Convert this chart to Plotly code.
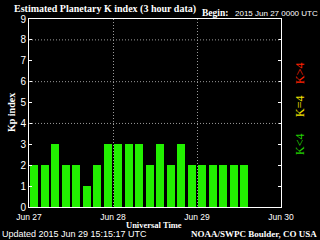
import pandas as pd
import plotly.graph_objects as go

# Data
start = "2015-06-27 00:00"
kp_values = [2, 2, 3, 2, 2, 1, 2, 3,
             3, 3, 3, 2, 3, 2, 3, 2,
             2, 2, 2, 2, 2]
bin_hours = 3
day_ticks = ["2015-06-27", "2015-06-28", "2015-06-29", "2015-06-30"]
day_labels = ["Jun 27", "Jun 28", "Jun 29", "Jun 30"]
grid_levels = [4, 6, 8]

times = pd.date_range(start, periods=len(kp_values), freq=f"{bin_hours}h") + pd.Timedelta(hours=bin_hours / 2)
bar_width_ms = bin_hours * 3600 * 1000 * 0.75

W, H = 320, 240
L, R, T, B = 29, 39, 19, 33
pw, ph = W - L - R, H - T - B


def px(x):
    return (x - L) / pw


def py(y):
    return (H - B - y) / ph


serif = "Liberation Serif"
sans = "Liberation Sans"
grid_col = "#9a9a9a"
grid_dash = "1px,2px"

fig = go.Figure()
fig.add_trace(go.Bar(
    x=times, y=kp_values, width=bar_width_ms,
    marker=dict(color="#22f000", line=dict(width=0)),
))

for lv in grid_levels:
    fig.add_hline(y=lv, line=dict(color=grid_col, width=1, dash=grid_dash))

fig.update_layout(
    width=W, height=H,
    margin=dict(l=L, r=R, t=T, b=B),
    paper_bgcolor="black", plot_bgcolor="black",
    showlegend=False, bargap=0,
    xaxis=dict(
        type="date", range=[day_ticks[0], day_ticks[-1]],
        tickvals=day_ticks, ticktext=day_labels,
        showgrid=True, gridcolor=grid_col, griddash=grid_dash, gridwidth=1,
        showline=True, linecolor="white", linewidth=1, mirror=True,
        ticks="", tickfont=dict(family=sans, size=8.5, color="white"),
        ticklabelstandoff=2,
        zeroline=False,
    ),
    yaxis=dict(
        range=[0, 9], dtick=1, showgrid=False,
        showline=True, linecolor="white", linewidth=1, mirror="ticks",
        ticks="inside", ticklen=3, tickcolor="white",
        tickfont=dict(family=sans, size=10, color="white"),
        zeroline=False,
    ),
)

ann = [
    dict(text="<b>Estimated Planetary K index (3 hour data)</b>", x=px(12), y=py(9),
         xanchor="left", yanchor="middle", font=dict(family=serif, size=10, color="white")),
    dict(text="<b>Begin:</b>", x=px(200), y=py(13), xanchor="left", yanchor="middle",
         font=dict(family=serif, size=9.5, color="white")),
    dict(text="2015 Jun 27 0000 UTC", x=px(320), y=py(13), xanchor="right", yanchor="middle",
         font=dict(family=sans, size=8, color="white")),
    dict(text="<b>Kp index</b>", x=px(11), y=py(113), xanchor="center", yanchor="middle", textangle=-90,
         font=dict(family=serif, size=10, color="white")),
    dict(text="<b>Universal Time</b>", x=px(154), y=py(225), xanchor="center", yanchor="middle",
         font=dict(family=serif, size=8.5, color="white")),
    dict(text="Updated 2015 Jun 29 15:15:17 UTC", x=px(0), y=py(234), xanchor="left", yanchor="middle",
         font=dict(family=sans, size=9, color="white")),
    dict(text="<b>NOAA/SWPC Boulder, CO USA</b>", x=px(319), y=py(234), xanchor="right", yanchor="middle",
         font=dict(family=serif, size=9, color="white")),
    dict(text="K>4", x=px(300), y=py(74), xanchor="center", yanchor="middle", textangle=-90,
         font=dict(family=serif, size=12, color="#ff2000")),
    dict(text="K=4", x=px(300), y=py(107), xanchor="center", yanchor="middle", textangle=-90,
         font=dict(family=serif, size=12, color="#f0e000")),
    dict(text="K<4", x=px(300), y=py(145), xanchor="center", yanchor="middle", textangle=-90,
         font=dict(family=serif, size=12, color="#22d000")),
]
for a in ann:
    a.update(xref="paper", yref="paper", showarrow=False)
fig.update_layout(annotations=ann)

fig.write_html("out.html")
